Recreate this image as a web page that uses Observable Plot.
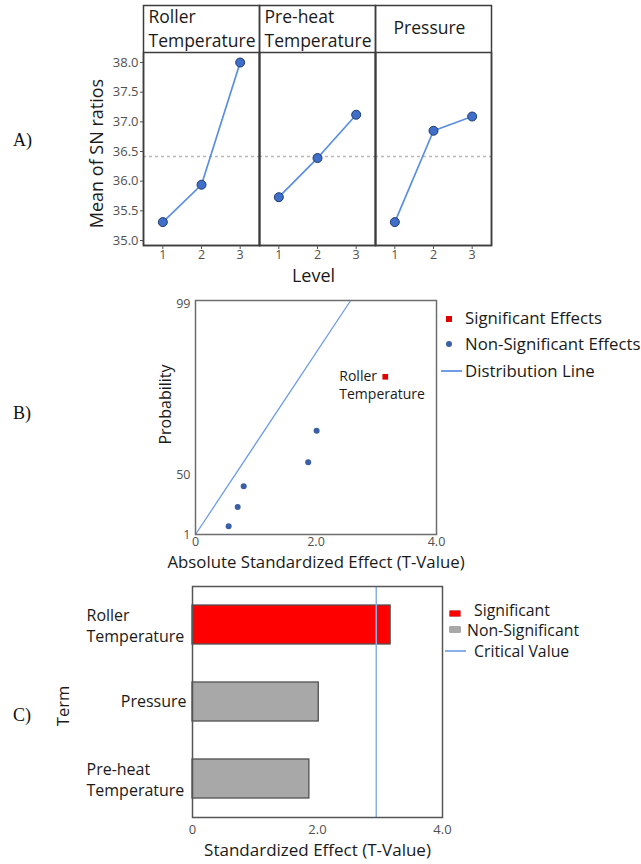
<!DOCTYPE html>
<html>
<head>
<meta charset="utf-8">
<script src="https://cdn.jsdelivr.net/npm/d3@7"></script>
<script src="https://cdn.jsdelivr.net/npm/@observablehq/plot@0.6"></script>
<style>
html, body { margin: 0; padding: 0; background: #fff; width: 641px; height: 864px; overflow: hidden; }
#root { position: relative; width: 641px; height: 864px; font-family: "Open Sans", sans-serif; color: #1a1a1a; }
.abs { position: absolute; }
.plot { position: absolute; left: 0; }
.plab { position: absolute; left: 13px; font-family: "Liberation Serif", "Times New Roman", serif; font-size: 18px; line-height: 20px; color: #111; }
.lt { position: absolute; white-space: nowrap; line-height: 18px; color: #1a1a1a; }
</style>
</head>
<body>
<div id="root"></div>
<script>
// ---------- Data ----------
// A) Main effects plot for SN ratios
const factors = ["Roller Temperature", "Pre-heat Temperature", "Pressure"];
const headerLabels = ["Roller\nTemperature", "Pre-heat\nTemperature", "Pressure"];
const levels = [1, 2, 3];
const snRoller = [35.31, 35.94, 38.00];
const snPreheat = [35.73, 36.39, 37.12];
const snPressure = [35.31, 36.85, 37.09];
const snTicks = [35.0, 35.5, 36.0, 36.5, 37.0, 37.5, 38.0];

// B) Half normal plot of standardized effects
const effectAbs = [0.55, 0.70, 0.80, 1.87, 2.01, 3.15];
const effectProb = [7.8, 23.5, 40.7, 53.6, 62.7, 78.2];
const effectSignificant = [false, false, false, false, false, true];
const effectLabels = ["", "", "", "", "", "Roller\nTemperature"];
const distX = [0, 2.57];
const distP = [1, 100];
const probTicks = [1, 50, 99];
const probTickPlacement = [0, 25.5, 98.3]; // where each probability tick sits along the axis (% of axis)
const effectTicks = [0, 2, 4];

// C) Pareto chart of standardized effects
const terms = ["Roller Temperature", "Pressure", "Pre-heat Temperature"];
const termLabels = ["Roller\nTemperature", "Pressure", "Pre-heat\nTemperature"];
const tValues = [3.17, 2.02, 1.87];
const termSignificant = [true, false, false];
const criticalValue = 2.94;
const paretoTicks = [0, 2, 4];

// ---------- Build tables ----------
const snSeries = [snRoller, snPreheat, snPressure];
const mainRows = [];
factors.forEach((f, i) => levels.forEach((l, j) => mainRows.push({factor: f, level: l, sn: snSeries[i][j]})));
const grandMean = d3.mean(mainRows, d => d.sn);
const headerOf = new Map(factors.map((f, i) => [f, headerLabels[i]]));

// probability axis of the half-normal plot (non-linear, piecewise)
const probAxis = d3.scaleLinear().domain(probTicks).range(probTickPlacement);
const effRows = effectAbs.map((x, i) => ({x, p: effectProb[i], sig: effectSignificant[i], label: effectLabels[i]}));
const distRows = distX.map((x, i) => ({x, p: distP[i]}));

const termRows = terms.map((t, i) => ({term: t, t: tValues[i], sig: termSignificant[i]}));
const termLabelOf = new Map(terms.map((t, i) => [t, termLabels[i]]));

const FONT = '"Open Sans", sans-serif';
const root = document.getElementById("root");

function place(svg, top) {
  const wrap = document.createElement("div");
  wrap.className = "plot";
  wrap.style.top = top + "px";
  wrap.appendChild(svg);
  root.appendChild(wrap);
}

// ---------- A ----------
const frameCol = "#3c3c3c";
const plotA = Plot.plot({
  width: 500, height: 290,
  marginLeft: 143, marginRight: 9, marginTop: 52, marginBottom: 45,
  style: {fontFamily: FONT, fontSize: "13px", color: "#1a1a1a", background: "transparent", overflow: "visible"},
  fx: {domain: factors, padding: 0, label: null, axis: null},
  x: {domain: [0.5, 3.5], label: null},
  y: {domain: [34.916, 38.169], label: null},
  marks: [
    Plot.ruleY([grandMean], {stroke: "#b8b8b8", strokeDasharray: "3,3", strokeWidth: 1.6}),
    Plot.line(mainRows, {fx: "factor", x: "level", y: "sn", stroke: "#5b8ee0", strokeWidth: 1.7}),
    Plot.dot(mainRows, {fx: "factor", x: "level", y: "sn", r: 4.5, fill: "#3f6fc8", stroke: "#1f3b70", strokeWidth: 1}),
    Plot.frame({insetTop: -47, stroke: frameCol, strokeWidth: 1.5}),
    Plot.frame({stroke: frameCol, strokeWidth: 1.5}),
    Plot.axisX({ticks: levels, tickFormat: d => String(d), tickSize: 4, tickPadding: 1, fontSize: 12.5, color: "#505050", label: null}),
    Plot.axisY({ticks: snTicks, tickFormat: d => d.toFixed(1), tickSize: 3, tickPadding: 2, fontSize: 13, color: "#505050", label: null}),
    Plot.text(factors.slice(0, 2), {fx: d => d, text: d => headerOf.get(d), frameAnchor: "top-left", textAnchor: "start", lineAnchor: "middle", dx: 5, dy: -25, fontSize: 17.5, lineHeight: 1.37, fill: "#1a1a1a"}),
    Plot.text(factors.slice(2), {fx: d => d, text: d => headerOf.get(d), frameAnchor: "top", textAnchor: "middle", lineAnchor: "middle", dx: -4, dy: -24, fontSize: 17.5, fill: "#1a1a1a"}),
    Plot.text(["Mean of SN ratios"], {facet: "super", frameAnchor: "left", text: d => d, textAnchor: "middle", rotate: -90, dx: -46, dy: 4.5, fontSize: 18, fill: "#1a1a1a"}),
    Plot.text(["Level"], {facet: "super", frameAnchor: "bottom", text: d => d, textAnchor: "middle", dx: -4, dy: 36, fontSize: 18, fill: "#1a1a1a"})
  ]
});
place(plotA, 0);

// ---------- B ----------
const plotB = Plot.plot({
  width: 440, height: 290,
  marginLeft: 195, marginRight: 4, marginTop: 10, marginBottom: 46,
  style: {fontFamily: FONT, fontSize: "12px", color: "#1a1a1a", background: "transparent", overflow: "visible"},
  x: {domain: [0, 4], label: null},
  y: {domain: [0, 100], label: null},
  marks: [
    Plot.line(distRows, {x: "x", y: d => probAxis(d.p), stroke: "#6f9be8", strokeWidth: 1.3}),
    Plot.dot(effRows.filter(d => !d.sig), {x: "x", y: d => probAxis(d.p), r: 3, fill: "#3b5fa6"}),
    Plot.dot(effRows.filter(d => d.sig), {x: "x", y: d => probAxis(d.p), symbol: "square", r: 3.2, fill: "#e00000"}),
    Plot.text(effRows.filter(d => d.sig), {x: "x", y: d => probAxis(d.p), text: "label", textAnchor: "start", lineAnchor: "top", dx: -46, dy: -9, fontSize: 14, lineHeight: 1.3, fill: "#1a1a1a"}),
    Plot.frame({stroke: "#6e6e6e", strokeWidth: 1.5}),
    Plot.axisX({ticks: effectTicks, tickFormat: d => d === 0 ? "0" : d.toFixed(1), tickSize: 0, tickPadding: 3, fontSize: 12.5, color: "#505050", label: null}),
    Plot.axisY({ticks: probTicks.map(p => probAxis(p)), tickFormat: v => String(Math.round(probAxis.invert(v))), tickSize: 0, tickPadding: 5, fontSize: 12.5, color: "#505050", label: null}),
    Plot.text(["Probability"], {frameAnchor: "left", text: d => d, textAnchor: "middle", rotate: -90, dx: -30, dy: -13, fontSize: 16, fill: "#1a1a1a"}),
    Plot.text(["Absolute Standardized Effect (T-Value)"], {frameAnchor: "bottom", text: d => d, textAnchor: "middle", dy: 33, fontSize: 16.8, fill: "#1a1a1a"})
  ]
});
place(plotB, 290);

// ---------- C ----------
const plotC = Plot.plot({
  width: 445, height: 284,
  marginLeft: 192, marginRight: 3, marginTop: 6, marginBottom: 47,
  style: {fontFamily: FONT, fontSize: "13px", color: "#1a1a1a", background: "transparent", overflow: "visible"},
  x: {domain: [0, 4], label: null},
  y: {domain: terms, paddingInner: 0.5, paddingOuter: 0.25, label: null},
  marks: [
    Plot.barX(termRows.filter(d => d.sig), {x: "t", y: "term", fill: "#ff0000", stroke: "#505050", strokeWidth: 1.3}),
    Plot.barX(termRows.filter(d => !d.sig), {x: "t", y: "term", fill: "#a8a8a8", stroke: "#505050", strokeWidth: 1.3}),
    Plot.ruleX([criticalValue], {stroke: "#8aaeea", strokeWidth: 1.5}),
    Plot.frame({stroke: "#555555", strokeWidth: 1.5}),
    Plot.axisX({ticks: paretoTicks, tickFormat: d => d === 0 ? "0" : d.toFixed(1), tickSize: 0, tickPadding: 7, fontSize: 13, color: "#505050", label: null}),
    Plot.axisY(["Pressure"], {tickSize: 0, tickPadding: 6, fontSize: 16, fill: "#1a1a1a", tickFormat: d => termLabelOf.get(d), label: null}),
    Plot.axisY(["Roller Temperature", "Pre-heat Temperature"], {tickSize: 0, tickPadding: 6, textAnchor: "start", dx: -100, fontSize: 16, lineHeight: 1.3, fill: "#1a1a1a", tickFormat: d => termLabelOf.get(d), label: null}),
    Plot.text(["Term"], {frameAnchor: "left", text: d => d, textAnchor: "middle", rotate: -90, dx: -129, dy: 4, fontSize: 16.5, fill: "#1a1a1a"}),
    Plot.text(["Standardized Effect (T-Value)"], {frameAnchor: "bottom", text: d => d, textAnchor: "middle", dy: 38, fontSize: 17, fill: "#1a1a1a"})
  ]
});
place(plotC, 580);

// ---------- Panel labels & legends (HTML) ----------
function add(html, css, cls) {
  const el = document.createElement("div");
  el.className = cls || "abs";
  el.innerHTML = html;
  Object.assign(el.style, css);
  root.appendChild(el);
  return el;
}
add("A)", {top: "130px"}, "plab");
add("B)", {top: "403px"}, "plab");
add("C)", {top: "705px"}, "plab");

// Legend B
const legB = [
  {text: "Significant Effects", y: 318, kind: "sq"},
  {text: "Non-Significant Effects", y: 344, kind: "dot"},
  {text: "Distribution Line", y: 371, kind: "line"}
];
legB.forEach(d => {
  if (d.kind === "sq") add("", {left: "446px", top: (d.y - 2) + "px", width: "6px", height: "6px", background: "#e00000"});
  if (d.kind === "dot") add("", {left: "446px", top: (d.y - 3) + "px", width: "6px", height: "6px", borderRadius: "50%", background: "#3b5fa6"});
  if (d.kind === "line") add("", {left: "441px", top: (d.y - 0.75) + "px", width: "21px", height: "1.5px", background: "#6f9be8"});
  add(d.text, {left: "465px", top: (d.y - 9) + "px", fontSize: "16.8px"}, "lt");
});

// Legend C
const legC = [
  {text: "Significant", y: 609.5, x: 474, kind: "red"},
  {text: "Non-Significant", y: 630, x: 467, kind: "grey"},
  {text: "Critical Value", y: 651, x: 474, kind: "line"}
];
legC.forEach(d => {
  if (d.kind === "red") add("", {left: "450px", top: "611px", width: "10px", height: "5px", background: "#ff0000", boxShadow: "0 0 0 0.6px #b00000"});
  if (d.kind === "grey") add("", {left: "450px", top: "627px", width: "10px", height: "5px", background: "#a8a8a8", boxShadow: "0 0 0 0.6px #707070"});
  if (d.kind === "line") add("", {left: "445px", top: "650px", width: "21px", height: "1.5px", background: "#8aaeea"});
  add(d.text, {left: d.x + "px", top: (d.y - 9) + "px", fontSize: "15.8px"}, "lt");
});
</script>
</body>
</html>
